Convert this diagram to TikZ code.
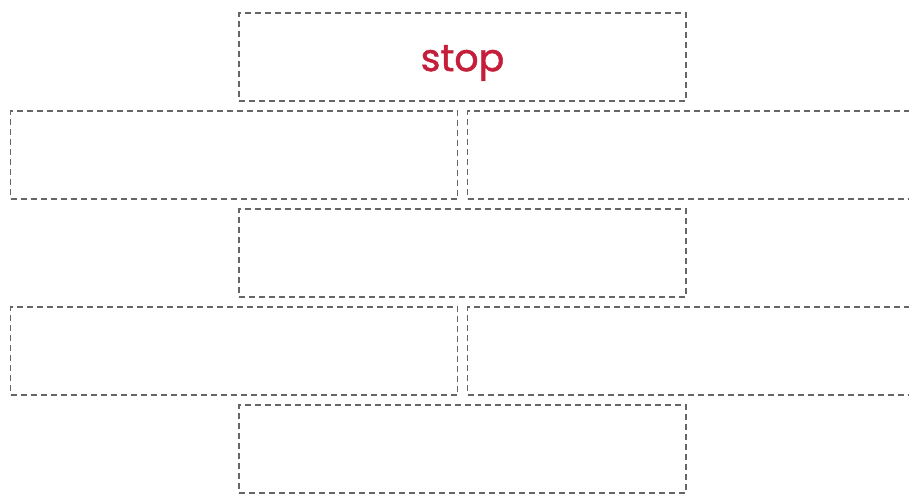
\documentclass[tikz,border=0pt]{standalone}
\usepackage{fontspec}
\newfontfamily\handfont[FakeBold=1.2]{Poppins}
\usetikzlibrary{positioning}
\definecolor{frame}{HTML}{666666}
\definecolor{stopred}{HTML}{C41E3A}
\tikzset{
  slot/.style={draw=frame, dash pattern=on 6pt off 4pt, line width=1.5pt,
               minimum width=447pt, minimum height=88pt, inner sep=0pt},
  stoptext/.style={text=stopred, font=\handfont\fontsize{38}{44}\selectfont}
}

\begin{document}
\begin{tikzpicture}[x=1pt,y=-1pt]
        \useasboundingbox (0,0) rectangle (909,494);
        \clip (0,0) rectangle (909,494);
        % middle column
        \foreach \y/\name in {57/rowa,253/rowc,449/rowe}
          {\node[slot] (\name) at (462.5,\y) {};}
        % left and right columns
        \foreach \y/\name in {155/rowb,351/rowd} {
          \node[slot] (\name left) at (234,\y) {};
          \node[slot] (\name right) at (691,\y) {};
        }
        \node[stoptext] (stop) at ([yshift=-6pt]rowa.center) {stop};
      \end{tikzpicture}
\end{document}
